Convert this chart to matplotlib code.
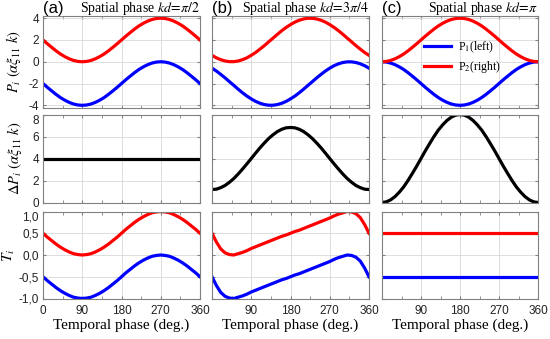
import numpy as np
import matplotlib
matplotlib.use("Agg")
import matplotlib.pyplot as plt

plt.rcParams['font.family'] = ['Liberation Sans', 'DejaVu Sans']
plt.rcParams['mathtext.fontset'] = 'stix'
plt.rcParams['axes.unicode_minus'] = False

# temporal phase (deg.)
phase = np.arange(0, 361, 10)

# (a) kd = pi/2
p1_a = [-2.00, -2.35, -2.68, -3.00, -3.29, -3.53, -3.73, -3.88, -3.97, -4.00, -3.97, -3.88, -3.73,
        -3.53, -3.29, -3.00, -2.68, -2.35, -2.00, -1.65, -1.32, -1.00, -0.71, -0.47, -0.27, -0.12,
        -0.03, 0.00, -0.03, -0.12, -0.27, -0.47, -0.71, -1.00, -1.32, -1.65, -2.00]
p2_a = [2.00, 1.65, 1.32, 1.00, 0.71, 0.47, 0.27, 0.12, 0.03, 0.00, 0.03, 0.12, 0.27, 0.47, 0.71,
        1.00, 1.32, 1.65, 2.00, 2.35, 2.68, 3.00, 3.29, 3.53, 3.73, 3.88, 3.97, 4.00, 3.97, 3.88,
        3.73, 3.53, 3.29, 3.00, 2.68, 2.35, 2.00]
dp_a = [4.0] * 37
t1_a = [-0.50, -0.59, -0.67, -0.75, -0.82, -0.88, -0.93, -0.97, -0.99, -1.00, -0.99, -0.97, -0.93,
        -0.88, -0.82, -0.75, -0.67, -0.59, -0.50, -0.41, -0.33, -0.25, -0.18, -0.12, -0.07, -0.03,
        -0.01, 0.00, -0.01, -0.03, -0.07, -0.12, -0.18, -0.25, -0.33, -0.41, -0.50]
t2_a = [0.50, 0.41, 0.33, 0.25, 0.18, 0.12, 0.07, 0.03, 0.01, 0.00, 0.01, 0.03, 0.07, 0.12, 0.18,
        0.25, 0.33, 0.41, 0.50, 0.59, 0.67, 0.75, 0.82, 0.88, 0.93, 0.97, 0.99, 1.00, 0.99, 0.97,
        0.93, 0.88, 0.82, 0.75, 0.67, 0.59, 0.50]

# (b) kd = 3pi/4
p1_b = [-0.59, -0.85, -1.16, -1.48, -1.83, -2.17, -2.52, -2.85, -3.15, -3.41, -3.64, -3.81, -3.93,
        -3.99, -3.99, -3.93, -3.81, -3.64, -3.41, -3.15, -2.85, -2.52, -2.17, -1.83, -1.48, -1.16,
        -0.85, -0.59, -0.36, -0.19, -0.07, -0.01, -0.01, -0.07, -0.19, -0.36, -0.59]
p2_b = [0.59, 0.36, 0.19, 0.07, 0.01, 0.01, 0.07, 0.19, 0.36, 0.59, 0.85, 1.16, 1.48, 1.83, 2.17,
        2.52, 2.85, 3.15, 3.41, 3.64, 3.81, 3.93, 3.99, 3.99, 3.93, 3.81, 3.64, 3.41, 3.15, 2.85,
        2.52, 2.17, 1.83, 1.48, 1.16, 0.85, 0.59]
dp_b = [1.18, 1.21, 1.35, 1.55, 1.84, 2.18, 2.59, 3.04, 3.51, 4.00, 4.49, 4.97, 5.41, 5.82, 6.16,
        6.45, 6.66, 6.79, 6.82, 6.79, 6.66, 6.45, 6.16, 5.82, 5.41, 4.97, 4.49, 4.00, 3.51, 3.04,
        2.59, 2.18, 1.84, 1.55, 1.35, 1.21, 1.18]
t1_b = [-0.50, -0.70, -0.86, -0.95, -0.99, -1.00, -0.97, -0.94, -0.90, -0.85, -0.81, -0.77, -0.73,
        -0.69, -0.65, -0.61, -0.57, -0.54, -0.50, -0.46, -0.43, -0.39, -0.35, -0.31, -0.27, -0.23,
        -0.19, -0.15, -0.10, -0.06, -0.03, 0.00, -0.01, -0.05, -0.14, -0.30, -0.50]
t2_b = [0.50, 0.30, 0.14, 0.05, 0.01, 0.00, 0.03, 0.06, 0.10, 0.15, 0.19, 0.23, 0.27, 0.31, 0.35,
        0.39, 0.43, 0.46, 0.50, 0.54, 0.57, 0.61, 0.65, 0.69, 0.73, 0.77, 0.81, 0.85, 0.90, 0.94,
        0.97, 1.00, 0.99, 0.95, 0.86, 0.70, 0.50]

# (c) kd = pi
p1_c = [0.00, -0.03, -0.12, -0.27, -0.47, -0.71, -1.00, -1.32, -1.65, -2.00, -2.35, -2.68, -3.00,
        -3.29, -3.53, -3.73, -3.88, -3.97, -4.00, -3.97, -3.88, -3.73, -3.53, -3.29, -3.00, -2.68,
        -2.35, -2.00, -1.65, -1.32, -1.00, -0.71, -0.47, -0.27, -0.12, -0.03, 0.00]
p2_c = [0.00, 0.03, 0.12, 0.27, 0.47, 0.71, 1.00, 1.32, 1.65, 2.00, 2.35, 2.68, 3.00, 3.29, 3.53,
        3.73, 3.88, 3.97, 4.00, 3.97, 3.88, 3.73, 3.53, 3.29, 3.00, 2.68, 2.35, 2.00, 1.65, 1.32,
        1.00, 0.71, 0.47, 0.27, 0.12, 0.03, 0.00]
dp_c = [0.00, 0.06, 0.24, 0.54, 0.94, 1.42, 2.00, 2.64, 3.30, 4.00, 4.70, 5.36, 6.00, 6.58, 7.06,
        7.46, 7.76, 7.94, 8.00, 7.94, 7.76, 7.46, 7.06, 6.58, 6.00, 5.36, 4.70, 4.00, 3.30, 2.64,
        2.00, 1.42, 0.94, 0.54, 0.24, 0.06, 0.00]
t1_c = [-0.5] * 37
t2_c = [0.5] * 37

panel_tags = ['(a)', '(b)', '(c)']
titles = [r'Spatial phase $kd\!=\!\pi/2$', r'Spatial phase $kd\!=\!3\pi/4$', r'Spatial phase $kd\!=\!\pi$']
legend_labels = ['P$_1$(left)', 'P$_2$(right)']

xticks = [0, 90, 180, 270, 360]
p_ticks = [-4, -2, 0, 2, 4]
p_ticklabels = ['-4', '-2', '0', '2', '4']
dp_ticks = [0, 2, 4, 6, 8]
dp_ticklabels = ['0', '2', '4', '6', '8']
t_ticks = [-1.0, -0.5, 0.0, 0.5, 1.0]
t_ticklabels = ['-1,0', '-0,5', '0,0', '0,5', '1,0']

cols = [(p1_a, p2_a, dp_a, t1_a, t2_a), (p1_b, p2_b, dp_b, t1_b, t2_b), (p1_c, p2_c, dp_c, t1_c, t2_c)]

W, H = 550, 339
fig = plt.figure(figsize=(5.5, 3.39), dpi=100)

col_x = [(43, 200), (212, 369), (382, 538)]
row_y = [(16, 107.5), (114.5, 202.5), (211.5, 298.5)]

serif = ['Liberation Serif', 'DejaVu Serif']
blue, red = '#0000ff', '#ff0000'
lw = 2.3

for j, (x0, x1) in enumerate(col_x):
    p1, p2, dp, t1, t2 = cols[j]
    axs = []
    for i, (y0, y1) in enumerate(row_y):
        ax = fig.add_axes([x0 / W, 1 - y1 / H, (x1 - x0) / W, (y1 - y0) / H])
        ax.set_xlim(0, 360)
        ax.set_xticks(xticks)
        ax.set_xticks([45, 135, 225, 315], minor=True)
        ax.grid(True, color='#d8d8d8', lw=0.6)
        ax.set_axisbelow(True)
        for s in ax.spines.values():
            s.set_color('#808080')
            s.set_linewidth(0.8)
        ax.tick_params(which='both', direction='in', top=True, right=True, colors='#808080',
                       labelcolor='#222222', labelsize=8.5, length=2.5, pad=3)
        ax.tick_params(axis='x', pad=5)
        axs.append(ax)

    ax1, ax2, ax3 = axs
    l1, = ax1.plot(phase, p1, color=blue, lw=lw, label=legend_labels[0])
    l2, = ax1.plot(phase, p2, color=red, lw=lw, label=legend_labels[1])
    ax1.set_ylim(-4.2, 4.2)
    ax1.set_yticks(p_ticks)

    ax2.plot(phase, dp, color='black', lw=lw)
    ax2.set_ylim(0, 8)
    ax2.set_yticks(dp_ticks)

    ax3.plot(phase, t1, color=blue, lw=lw)
    ax3.plot(phase, t2, color=red, lw=lw)
    ax3.set_ylim(-1, 1)
    ax3.set_yticks(t_ticks)

    ax1.set_xticklabels([])
    ax2.set_xticklabels([])
    if j == 0:
        ax3.set_xticklabels([str(v) for v in xticks])
        ax1.set_yticklabels(p_ticklabels)
        ax2.set_yticklabels(dp_ticklabels)
        ax3.set_yticklabels(t_ticklabels)
        # top labels of the lower rows sit just under their tick, as in the original
        ax2.get_yticklabels()[-1].set_va('top')
        ax3.get_yticklabels()[-1].set_va('top')
        ax1.set_ylabel(r'$P_i\ (\alpha\xi_{11}\ k)$', fontsize=10.5, labelpad=4)
        ax2.set_ylabel(r'$\Delta P_i\ (\alpha\xi_{11}\ k)$', fontsize=10.5, labelpad=6)
        ax3.set_ylabel(r'$T_i$', fontsize=11, labelpad=1)
    else:
        ax3.set_xticklabels([''] + [str(v) for v in xticks[1:]])
        for ax in axs:
            ax.set_yticklabels([])
    ax3.set_xlabel('Temporal phase (deg.)', family=serif, fontsize=11, labelpad=1)

    ax1.text(0.0, 1.0, panel_tags[j], transform=ax1.transAxes, ha='left', va='bottom', fontsize=12)
    ax1.text(1.0, 0.99, titles[j], transform=ax1.transAxes, ha='right', va='bottom',
             family=serif, fontsize=10)

    if j == 2:
        ax1.legend(handles=[l1, l2], loc='center left', bbox_to_anchor=(0.27, 0.55), frameon=False,
                   prop={'family': serif, 'size': 8.5}, handlelength=2.3, handletextpad=0.6,
                   labelspacing=0.3, borderpad=0, borderaxespad=0)

fig.savefig('out.png', dpi=100)
